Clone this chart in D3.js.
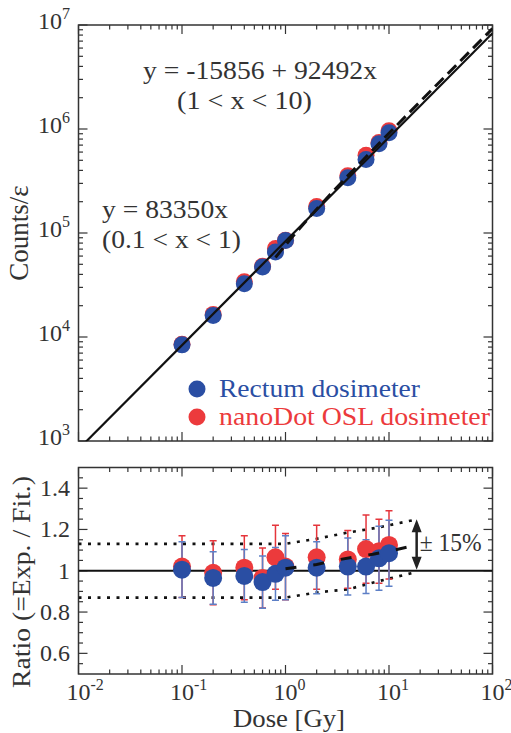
<!DOCTYPE html>
<html>
<head>
<meta charset="utf-8">
<script src="https://cdn.jsdelivr.net/npm/d3@7"></script>
</head>
<body style="margin:0">
<div id="chart"></div>
<script>
// doses [Gy]
const doses = [0.1, 0.2, 0.4, 0.6, 0.8, 1, 2, 4, 6, 8, 10];

// counts / efficiency
const rectumCounts  = [8400, 16100, 32500, 47000, 65500, 84500, 172000, 340000, 510000, 720000, 920000];
const nanoDotCounts = [8500, 16500, 34000, 48000, 71000, 85000, 180000, 355000, 560000, 740000, 960000];

// ratio exp / fit
const rectumRatio     = [1.005, 0.965, 0.975, 0.945, 0.985, 1.015, 1.015, 1.02, 1.02, 1.06, 1.085];
const rectumRatioErr  = [0.135, 0.127, 0.128, 0.127, 0.128, 0.155, 0.126, 0.138, 0.13, 0.155, 0.16];
const nanoDotRatio    = [1.02, 0.99, 1.015, 0.965, 1.065, 1.02, 1.065, 1.055, 1.105, 1.095, 1.125];
const nanoDotRatioErr = [0.15, 0.155, 0.155, 0.145, 0.155, 0.16, 0.155, 0.14, 0.165, 0.155, 0.165];

// fits
const fitLow  = {a: 0, b: 83350};        // y = 83350x
const fitHigh = {a: -15856, b: 92492};   // y = -15856 + 92492x
const fitLowX  = [0.01, 100];
const fitHighX = [0.8, 1, 1.5, 2, 3, 5, 10, 20, 50, 100];

// lower panel guide lines
const ratioDashed = [[1, 1.01], [2, 1.03], [3, 1.05], [5, 1.07], [7, 1.08], [10, 1.095], [17, 1.12]];
const bandUpper   = [[0.01, 1.13], [1, 1.13], [2, 1.155], [4, 1.185], [8, 1.21], [19, 1.25]];
const bandLower   = [[0.01, 0.87], [1, 0.87], [2, 0.895], [4, 0.91], [8, 0.95], [17, 0.99]];

// tick labels
const xDecades = [0.01, 0.1, 1, 10, 100];
const xExps = ["-2", "-1", "0", "1", "2"];
const yDecades = [1e3, 1e4, 1e5, 1e6, 1e7];
const yExps = ["3", "4", "5", "6", "7"];
const ratioTicks = [0.6, 0.8, 1, 1.2, 1.4];
const ratioLabels = ["0.6", "0.8", "1", "1.2", "1.4"];

const blue = "#2a4ea3", red = "#ec3a3c";
const blueBar = "#5d7fc6", redBar = "#e5353b";

const width = 511, height = 733;
const svg = d3.select("#chart").append("svg")
    .attr("width", width)
    .attr("height", height);

const x = d3.scaleLog().domain([0.01, 100]).range([78.5, 492.5]);
const yTop = d3.scaleLog().domain([1e3, 1e7]).range([441, 25]);
const yBot = d3.scaleLinear().domain([0.5, 1.5]).range([674, 467.5]);

svg.append("clipPath").attr("id", "clipTop")
    .append("rect").attr("x", 78.5).attr("y", 25).attr("width", 414).attr("height", 416);
svg.append("clipPath").attr("id", "clipBot")
    .append("rect").attr("x", 78.5).attr("y", 467.5).attr("width", 414).attr("height", 206.5);

// inward ticks on all four sides of a panel
function frame(yScale, yMajor, yMinor, y0, y1) {
    const g = svg.append("g").attr("stroke", "#333");
    const xMinor = x.ticks().filter(v => !xDecades.includes(v));
    const [x0, x1] = x.range();
    xDecades.forEach(v => {
        g.append("line").attr("x1", x(v)).attr("x2", x(v)).attr("y1", y1).attr("y2", y1 - 9);
        g.append("line").attr("x1", x(v)).attr("x2", x(v)).attr("y1", y0).attr("y2", y0 + 9);
    });
    xMinor.forEach(v => {
        g.append("line").attr("x1", x(v)).attr("x2", x(v)).attr("y1", y1).attr("y2", y1 - 4.5);
        g.append("line").attr("x1", x(v)).attr("x2", x(v)).attr("y1", y0).attr("y2", y0 + 4.5);
    });
    yMajor.forEach(v => {
        g.append("line").attr("x1", x0).attr("x2", x0 + 9).attr("y1", yScale(v)).attr("y2", yScale(v));
        g.append("line").attr("x1", x1).attr("x2", x1 - 9).attr("y1", yScale(v)).attr("y2", yScale(v));
    });
    yMinor.forEach(v => {
        g.append("line").attr("x1", x0).attr("x2", x0 + 4.5).attr("y1", yScale(v)).attr("y2", yScale(v));
        g.append("line").attr("x1", x1).attr("x2", x1 - 4.5).attr("y1", yScale(v)).attr("y2", yScale(v));
    });
    g.selectAll("line").attr("stroke-width", 1.2);
    svg.append("rect")
        .attr("x", x0).attr("y", y0)
        .attr("width", x1 - x0).attr("height", y1 - y0)
        .attr("fill", "none").attr("stroke", "#333").attr("stroke-width", 1.5);
}

frame(yTop, yDecades, yTop.ticks().filter(v => !yDecades.includes(v)), 25, 441);
const ratioMinor = d3.range(0.55, 1.5, 0.05).filter(v => !ratioTicks.some(t => Math.abs(t - v) < 1e-6));
frame(yBot, ratioTicks, ratioMinor, 467.5, 674);

// every label gets the same serif face; the source glyphs are a bit wider,
// so the long ones are stretched to the measured width
function label(xp, yp, size, str, len) {
    const t = svg.append("text")
        .attr("x", xp).attr("y", yp)
        .attr("font-family", "Liberation Serif")
        .attr("font-size", size)
        .attr("fill", "#333");
    if (str !== null) t.text(str);
    if (len) t.attr("textLength", len).attr("lengthAdjust", "spacingAndGlyphs");
    return t;
}

// ---------- upper panel ----------
const gTop = svg.append("g").attr("clip-path", "url(#clipTop)");

gTop.selectAll("circle.red").data(doses).join("circle")
    .attr("cx", d => x(d))
    .attr("cy", (d, i) => yTop(nanoDotCounts[i]))
    .attr("r", 8.5)
    .attr("fill", red);
gTop.selectAll("circle.blue").data(doses).join("circle")
    .attr("cx", d => x(d))
    .attr("cy", (d, i) => yTop(rectumCounts[i]))
    .attr("r", 8.5)
    .attr("fill", blue);

const lineTop = d3.line().x(d => x(d[0])).y(d => yTop(d[1]));
gTop.append("path")
    .attr("d", lineTop(fitLowX.map(v => [v, fitLow.a + fitLow.b * v])))
    .attr("fill", "none").attr("stroke", "#111").attr("stroke-width", 2.2);
gTop.append("path")
    .attr("d", d3.line().curve(d3.curveMonotoneX).x(d => x(d[0])).y(d => yTop(d[1]))(fitHighX.map(v => [v, fitHigh.a + fitHigh.b * v])))
    .attr("fill", "none").attr("stroke", "#111").attr("stroke-width", 3)
    .attr("stroke-dasharray", "12,6");

// y tick labels (upper)
yDecades.forEach((v, i) => {
    const t = label(70, yTop(v) + 4, 24, null).attr("text-anchor", "end");
    t.append("tspan").text("10");
    t.append("tspan").attr("dy", -10).attr("font-size", 16).text(yExps[i]);
});

// fit equations
label(143, 79, 26, "y = -15856 + 92492x", 234);
label(177, 109, 26, "(1 < x < 10)", 135);
label(102, 218, 26, "y = 83350x", 126);
label(102, 248, 26, "(0.1 < x < 1)", 139);

// legend
svg.append("circle").attr("cx", 197).attr("cy", 389).attr("r", 8.5).attr("fill", blue);
label(219, 397, 26, "Rectum dosimeter", 201).attr("fill", blue);
svg.append("circle").attr("cx", 197).attr("cy", 417).attr("r", 8.5).attr("fill", red);
label(219, 425, 26, "nanoDot OSL dosimeter", 271).attr("fill", red);

// y title (upper)
label(0, 0, 27, "Counts/ε")
    .attr("transform", "translate(28,233) rotate(-90)")
    .attr("text-anchor", "middle");

// ---------- lower panel ----------
const gBot = svg.append("g").attr("clip-path", "url(#clipBot)");
const lineBot = d3.line().x(d => x(d[0])).y(d => yBot(d[1]));

gBot.append("line")
    .attr("x1", x(0.01)).attr("x2", x(100))
    .attr("y1", yBot(1)).attr("y2", yBot(1))
    .attr("stroke", "#111").attr("stroke-width", 2);

[bandUpper, bandLower].forEach(b => {
    gBot.append("path").attr("d", lineBot(b))
        .attr("fill", "none").attr("stroke", "#111").attr("stroke-width", 2.6)
        .attr("stroke-dasharray", "3,6.5");
});

function errorBars(vals, errs, color) {
    const g = gBot.append("g").attr("stroke", color).attr("stroke-width", 1.5);
    doses.forEach((d, i) => {
        const cx = x(d), y1 = yBot(vals[i] + errs[i]), y2 = yBot(vals[i] - errs[i]);
        g.append("line").attr("x1", cx).attr("x2", cx).attr("y1", y1).attr("y2", y2);
        g.append("line").attr("x1", cx - 3.5).attr("x2", cx + 3.5).attr("y1", y1).attr("y2", y1);
        g.append("line").attr("x1", cx - 3.5).attr("x2", cx + 3.5).attr("y1", y2).attr("y2", y2);
    });
}
errorBars(nanoDotRatio, nanoDotRatioErr, redBar);
errorBars(rectumRatio, rectumRatioErr, blueBar);

gBot.selectAll("circle.red").data(doses).join("circle")
    .attr("cx", d => x(d))
    .attr("cy", (d, i) => yBot(nanoDotRatio[i]))
    .attr("r", 9)
    .attr("fill", red);
gBot.selectAll("circle.blue").data(doses).join("circle")
    .attr("cx", d => x(d))
    .attr("cy", (d, i) => yBot(rectumRatio[i]))
    .attr("r", 9)
    .attr("fill", blue);

gBot.append("path").attr("d", lineBot(ratioDashed))
    .attr("fill", "none").attr("stroke", "#111").attr("stroke-width", 3)
    .attr("stroke-dasharray", "11,17");

// +-15% arrow
const ax = x(18.5), ay1 = yBot(1.25), ay2 = yBot(1.005);
svg.append("line").attr("x1", ax).attr("x2", ax).attr("y1", ay1 + 8).attr("y2", ay2 - 8)
    .attr("stroke", "#222").attr("stroke-width", 2.5);
svg.append("path")
    .attr("d", `M${ax},${ay1} L${ax - 5},${ay1 + 13} L${ax + 5},${ay1 + 13} Z M${ax},${ay2} L${ax - 5},${ay2 - 13} L${ax + 5},${ay2 - 13} Z`)
    .attr("fill", "#222");
label(ax + 3, 551, 25, "± 15%", 62);

// ratio tick labels
ratioTicks.forEach((v, i) => {
    label(70, yBot(v) + 8, 24, ratioLabels[i]).attr("text-anchor", "end");
});

// x tick labels
xDecades.forEach((v, i) => {
    const t = label(x(v) - 12, 700, 24, null);
    t.append("tspan").text("10");
    t.append("tspan").attr("dy", -10).attr("font-size", 16).text(xExps[i]);
});

label(0, 0, 26, "Ratio (=Exp. / Fit.)", 212)
    .attr("transform", "translate(30,582) rotate(-90)")
    .attr("text-anchor", "middle");

label(289, 727, 26, "Dose [Gy]", 112).attr("text-anchor", "middle");
</script>
</body>
</html>
